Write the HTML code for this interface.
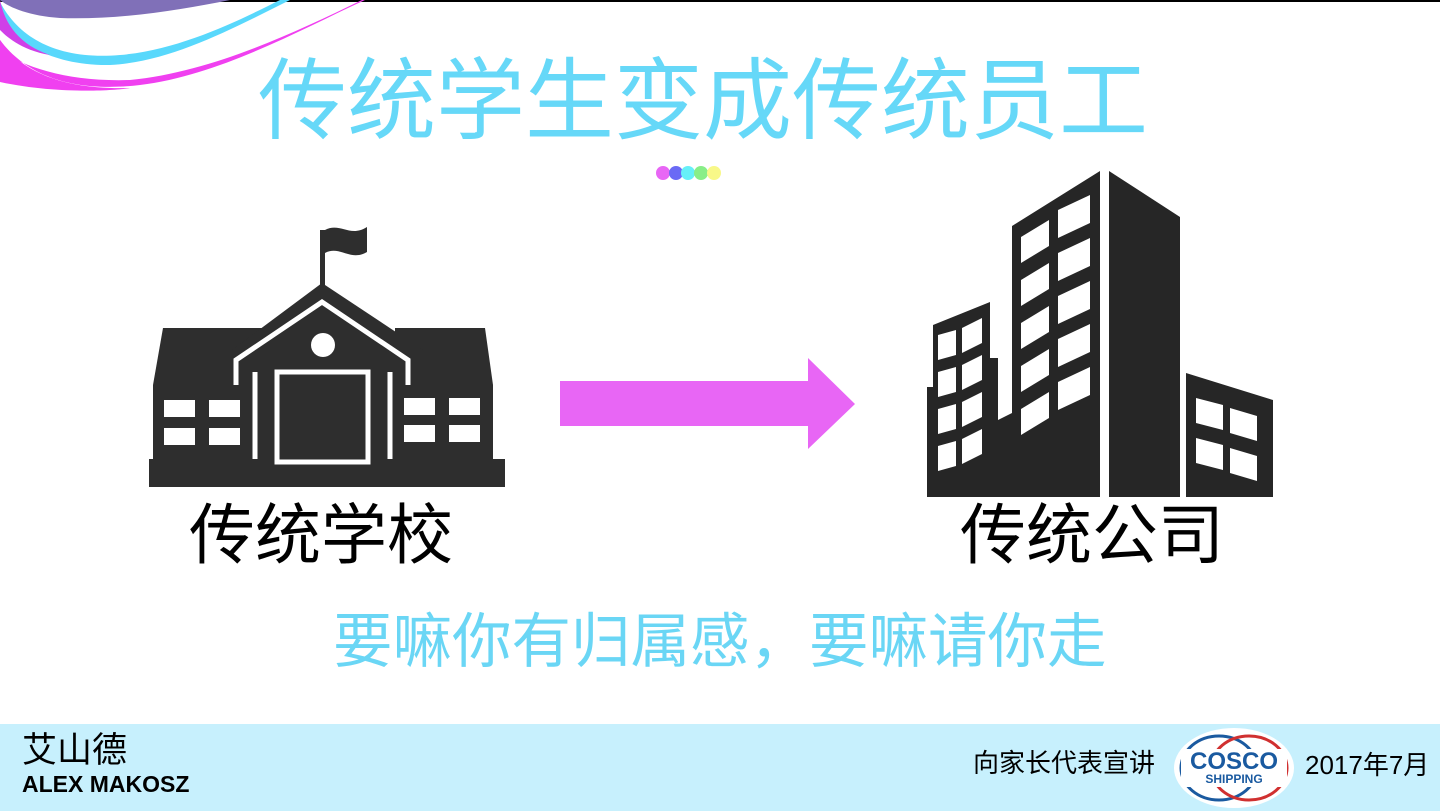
<!DOCTYPE html>
<html><head><meta charset="utf-8"><style>
html,body{margin:0;padding:0;}
body{width:1440px;height:811px;position:relative;overflow:hidden;background:#fff;font-family:"Liberation Sans","Noto Sans CJK SC",sans-serif;}
.t{position:absolute;white-space:nowrap;line-height:1;}
</style></head><body>
<div style="position:absolute;left:0;top:0;width:1440px;height:2px;background:#000"></div>
<svg style="position:absolute;left:0;top:0" width="400" height="100">
<path d="M0,0 L230,0 C180,10 120,20 60,18 C30,16 10,8 0,0Z" fill="#8070b8"/>
<path d="M0,2 C20,40 60,60 120,55 C180,50 240,20 280,0 L290,0 C230,30 170,62 110,65 C50,66 15,40 0,20Z" fill="#58d8fc"/>
<path d="M0,40 C30,80 80,92 140,85 C220,75 300,30 365,0 L362,0 C290,35 210,72 130,80 C70,82 25,68 0,50Z" fill="#f040f0"/>
<path d="M0,40 C20,70 60,90 130,88 C120,90 60,95 0,82Z" fill="#f040f0"/>
<path d="M0,0 C5,25 20,45 50,55 C20,50 5,35 0,30Z" fill="#d040e8"/>
</svg>
<div class="t" style="left:258px;top:57px;font-size:89px;color:#66d8f8">传统学生变成传统员工</div>
<svg style="position:absolute;left:650px;top:163px" width="80" height="20">
<circle cx="13" cy="10" r="7" fill="#e866f5"/><circle cx="26" cy="10" r="7" fill="#6a6af5"/><circle cx="38" cy="10" r="7" fill="#66f0f8"/><circle cx="51" cy="10" r="7" fill="#88ee88"/><circle cx="64" cy="10" r="7" fill="#f8f888"/>
</svg>
<svg style="position:absolute;left:0;top:0" width="1440" height="811">
<g fill="#2e2e2e">
<rect x="149" y="459" width="356" height="28"/>
<polygon points="163,328 330,328 330,459 153,459 153,385"/>
<polygon points="395,328 485,328 493,385 493,459 395,459"/>
<polygon points="322,283 423,350 423,459 232,459 232,350"/>
<rect x="320" y="230" width="5" height="55"/>
<path d="M325,230 C340,222 350,238 367,227 L367,252 C350,262 340,245 325,253Z"/>
</g>
<g fill="none" stroke="#fff" stroke-width="5">
<polyline points="236,385 236,360 322,302 408,360 408,385"/>
<rect x="277" y="372" width="91" height="90"/>
<line x1="255" y1="372" x2="255" y2="459"/><line x1="390" y1="372" x2="390" y2="459"/>
</g>
<circle cx="323" cy="345" r="12" fill="#fff"/>
<g fill="#fff">
<rect x="164" y="400" width="31" height="17"/><rect x="209" y="400" width="31" height="17"/>
<rect x="164" y="428" width="31" height="17"/><rect x="209" y="428" width="31" height="17"/>
<rect x="404" y="398" width="31" height="17"/><rect x="449" y="398" width="31" height="17"/>
<rect x="404" y="425" width="31" height="17"/><rect x="449" y="425" width="31" height="17"/>
</g>
<polygon points="560,381 808,381 808,358 855,404 808,449 808,426 560,426" fill="#e866f5"/>
<g fill="#262626">
<polygon points="927,387 933,387 933,325 990,302 990,358 998,358 998,420 1012,413 1012,226 1100,171 1100,497 927,497"/>
<polygon points="1109,171 1180,217 1180,497 1109,497"/>
<polygon points="1186,373 1273,400 1273,497 1186,497"/>
</g>
<g fill="#fff">
<polygon points="1021,237 1049,220 1049,246 1021,263"/><polygon points="1021,280 1049,263 1049,289 1021,306"/><polygon points="1021,323 1049,306 1049,332 1021,349"/><polygon points="1021,366 1049,349 1049,375 1021,392"/><polygon points="1021,409 1049,392 1049,418 1021,435"/>
<polygon points="1058,210 1090,195 1090,223 1058,238"/><polygon points="1058,253 1090,238 1090,266 1058,281"/><polygon points="1058,296 1090,281 1090,309 1058,324"/><polygon points="1058,339 1090,324 1090,352 1058,367"/><polygon points="1058,382 1090,367 1090,395 1058,410"/>
<polygon points="938,335 956,330 956,355 938,360"/><polygon points="938,372 956,367 956,392 938,397"/><polygon points="938,409 956,404 956,429 938,434"/><polygon points="938,446 956,441 956,466 938,471"/>
<polygon points="962,328 982,318 982,343 962,353"/><polygon points="962,365 982,355 982,380 962,390"/><polygon points="962,402 982,392 982,417 962,427"/><polygon points="962,439 982,429 982,454 962,464"/>
<polygon points="1196,398 1223,405 1223,430 1196,423"/><polygon points="1196,438 1223,445 1223,470 1196,463"/>
<polygon points="1230,408 1257,416 1257,441 1230,433"/><polygon points="1230,448 1257,456 1257,481 1230,473"/>
</g>
</svg>
<div class="t" style="left:189px;top:502px;font-size:66px;color:#000">传统学校</div>
<div class="t" style="left:960px;top:502px;font-size:66px;color:#000">传统公司</div>
<div class="t" style="left:333px;top:612px;font-size:59.5px;color:#6ad6f5">要嘛你有归属感，要嘛请你走</div>
<div style="position:absolute;left:0;top:724px;width:1440px;height:87px;background:#c7f0fd"></div>
<div class="t" style="left:22px;top:733px;font-size:35px;color:#000">艾山德</div>
<div class="t" style="left:22px;top:773px;font-size:23px;font-weight:bold;color:#000">ALEX MAKOSZ</div>
<div class="t" style="left:973px;top:750px;font-size:26px;color:#000">向家长代表宣讲</div>
<svg style="position:absolute;left:1173px;top:727px" width="122" height="82">
<ellipse cx="61" cy="41" rx="60" ry="40" fill="#fff"/>
<ellipse cx="46" cy="41" rx="38" ry="32" fill="none" stroke="#1a5aa0" stroke-width="3"/>
<ellipse cx="76" cy="41" rx="38" ry="32" fill="none" stroke="#d03030" stroke-width="3"/>
<rect x="8" y="22" width="106" height="38" fill="#fff"/>
<text x="61" y="42" text-anchor="middle" font-family="Liberation Sans" font-weight="bold" font-size="24" fill="#1a5aa0">COSCO</text>
<text x="61" y="56" text-anchor="middle" font-family="Liberation Sans" font-weight="bold" font-size="12" fill="#1a5aa0">SHIPPING</text>
</svg>
<div class="t" style="left:1305px;top:752px;font-size:26px;color:#000">2017年7月</div>
</body></html>
